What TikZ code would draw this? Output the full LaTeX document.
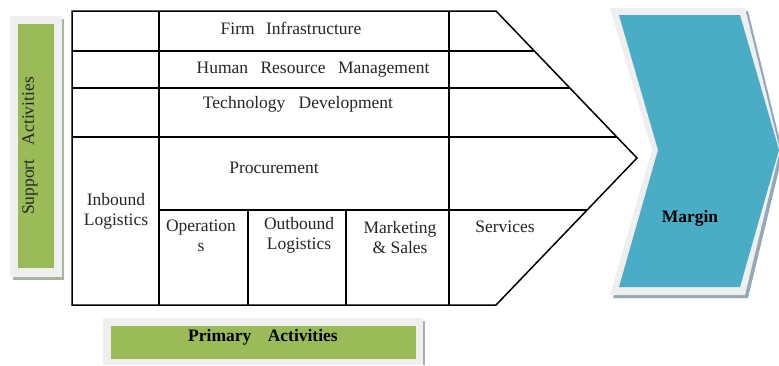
\documentclass[tikz,border=0pt]{standalone}
\usepackage{fontspec}
\setmainfont{Liberation Serif}
\definecolor{pgreen}{HTML}{9BBB59}
\definecolor{pblue}{HTML}{4BACC6}
\definecolor{frame}{HTML}{EFEFEF}
\definecolor{gshadow}{HTML}{A9B3A0}
\definecolor{bshadow}{HTML}{93AAB5}
\tikzset{
  lbl/.style={font=\fontsize{17.5}{20}\selectfont, align=center, inner sep=0pt, text=black!85},
  blbl/.style={font=\fontsize{17.5}{20}\selectfont\bfseries, inner sep=0pt},
  grid/.style={line width=1.5pt, black}
}
\begin{document}
\begin{tikzpicture}[x=1pt,y=-1pt]
\useasboundingbox (0,0) rectangle (779,365);
% Support activities box
\fill[gshadow] (13,19) rectangle (64,280);
\fill[frame] (10,16) rectangle (62,277);
\fill[pgreen] (18,24) rectangle (54,268);
\node[lbl, rotate=90] (support) at (30,146) {Support\hspace{10pt} Activities};
% Primary activities box
\fill[gshadow] (106,321) rectangle (425,365);
\fill[frame] (103,318) rectangle (423,365);
\fill[pgreen] (111,326) rectangle (416,359);
\node[blbl] (primary) at (263,337) {Primary\hspace{12pt} Activities};
% Margin chevron
\fill[bshadow] (613,11) -- (748,11) -- (783,153) -- (748,298) -- (613,298) -- (655,153) -- cycle;
\fill[frame] (610,8) -- (745,8) -- (780,150) -- (745,295) -- (610,295) -- (652,150) -- cycle;
\fill[pblue] (619,15) -- (740,15) -- (779,150) -- (740,287) -- (619,287) -- (658,150) -- cycle;
\node[blbl] (margin) at (690,218) {Margin};
% Value chain outline
\draw[grid, fill=white, line join=miter] (72,11) -- (496,11) -- (637,158) -- (496,305) -- (72,305) -- cycle;
\draw[grid] (72,51) -- (534,51);
\draw[grid] (72,88) -- (570,88);
\draw[grid] (72,137) -- (617,137);
\draw[grid] (159,210) -- (587,210);
\draw[grid] (159,11) -- (159,305);
\draw[grid] (449,11) -- (449,305);
\draw[grid] (248,210) -- (248,305);
\draw[grid] (346,210) -- (346,305);
% Labels
\node[lbl] (firm) at (291,28) {Firm\hspace{7pt} Infrastructure};
\node[lbl] (hrm) at (313,70) {Human\hspace{8pt} Resource\hspace{8pt} Management};
\node[lbl] (tech) at (298,104) {Technology\hspace{9pt} Development};
\node[lbl] (proc) at (274,168) {Procurement};
\node[lbl] (inb) at (116,211) {Inbound\\Logistics};
\node[lbl] (ops) at (201,236) {Operation\\s};
\node[lbl] (outb) at (299,235) {Outbound\\Logistics};
\node[lbl] (mkt) at (400,238) {Marketing\\\& Sales};
\node[lbl] (serv) at (505,227) {Services};
\end{tikzpicture}
\end{document}
